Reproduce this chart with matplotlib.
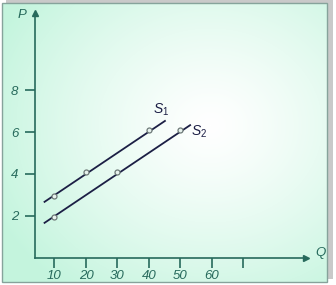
import numpy as np
import matplotlib
matplotlib.use("Agg")
import matplotlib.pyplot as plt
from matplotlib.patches import Rectangle

# values
q_ticks = [10, 20, 30, 40, 50, 60, 70]
q_labels = ["10", "20", "30", "40", "50", "60", ""]
p_ticks = [2, 4, 6, 8]
p_labels = ["2", "4", "6", "8"]

s1_line_q = [6.6, 45.3]
s1_line_p = [2.65, 6.55]
s1_pts_q = [10, 20, 40]
s1_pts_p = [2.95, 4.1, 6.1]

s2_line_q = [6.6, 53.3]
s2_line_p = [1.65, 6.35]
s2_pts_q = [10, 30, 50]
s2_pts_p = [1.95, 4.1, 6.1]

axis_col = "#276a5c"
line_col = "#1c1f45"
plt.rcParams['font.family'] = ['Liberation Sans', 'DejaVu Sans']
plt.rcParams['mathtext.fontset'] = 'custom'
plt.rcParams['mathtext.it'] = 'Liberation Sans:italic'
plt.rcParams['mathtext.rm'] = 'Liberation Sans'

W, H = 336, 285
fig = plt.figure(figsize=(W / 100, H / 100), dpi=100)

# panel background with shadow and soft radial gradient
bg = fig.add_axes([0, 0, 1, 1])
bg.set_xlim(0, W)
bg.set_ylim(H, 0)
bg.axis("off")
bg.add_patch(Rectangle((6, 0), 327, 279, facecolor="#c9c9c9", edgecolor="none"))
panel = Rectangle((2, 3), 325, 279, facecolor="none", edgecolor="#86a39b", lw=1.0, zorder=3)
yy, xx = np.mgrid[0:H, 0:W]
d = np.sqrt(((xx - 210) / 1.15) ** 2 + (yy - 125) ** 2) / 205.0
d = np.clip(d, 0, 1) ** 1.25
white = np.array([1.0, 1.0, 1.0])
mint = np.array([0.77, 0.96, 0.87])
img = white[None, None, :] * (1 - d[..., None]) + mint[None, None, :] * d[..., None]
im = bg.imshow(img, extent=(0, W, H, 0), interpolation="bilinear", zorder=1)
clip = Rectangle((2, 3), 325, 279, transform=bg.transData)
im.set_clip_path(clip)
bg.add_patch(panel)

# main axes, data mapped onto the whole figure
ax = fig.add_axes([0, 0, 1, 1])
ax.patch.set_alpha(0)
ax.set_xlim(-7.30, 99.37)
ax.set_ylim(-1.286, 12.286)

y0x = 3.81
for s in ["top", "right"]:
    ax.spines[s].set_visible(False)
ax.spines["left"].set_position(("data", y0x))
ax.spines["bottom"].set_position(("data", 0))
ax.spines["left"].set_bounds(0, 11.6)
ax.spines["bottom"].set_bounds(y0x, 89.5)
for s in ["left", "bottom"]:
    ax.spines[s].set_color(axis_col)
    ax.spines[s].set_linewidth(1.2)
ax.plot([y0x], [11.65], marker="^", ms=4, color=axis_col, clip_on=False)
ax.plot([89.8], [0], marker=">", ms=4, color=axis_col, clip_on=False)

ax.set_xticks(q_ticks)
ax.set_xticklabels(q_labels, style="italic")
ax.set_yticks(p_ticks)
ax.set_yticklabels(p_labels, style="italic")
ax.tick_params(axis="both", direction="out", length=7, width=1.2, color=axis_col,
               labelcolor=axis_col, labelsize=9.5)
ax.tick_params(axis="x", pad=2)
ax.tick_params(axis="y", pad=5)

ax.text(-0.2, 11.55, "P", style="italic", color=axis_col, fontsize=9.5, ha="center", va="center")
ax.text(94.3, 0.25, "Q", style="italic", color=axis_col, fontsize=9.5, ha="center", va="center")

ax.plot(s1_line_q, s1_line_p, color=line_col, lw=1.3, solid_capstyle="butt")
ax.plot(s2_line_q, s2_line_p, color=line_col, lw=1.3, solid_capstyle="butt")
ax.plot(s1_pts_q, s1_pts_p, "o", ms=3.6, mfc="#e8f2ee", mec="#6e7a78", mew=0.9)
ax.plot(s2_pts_q, s2_pts_p, "o", ms=3.6, mfc="#e8f2ee", mec="#6e7a78", mew=0.9)

ax.text(43.9, 7.05, "$S_1$", color=line_col, fontsize=10, ha="center", va="center")
ax.text(55.8, 6.0, "$S_2$", color=line_col, fontsize=10, ha="center", va="center")

fig.savefig("out.png", dpi=100)
